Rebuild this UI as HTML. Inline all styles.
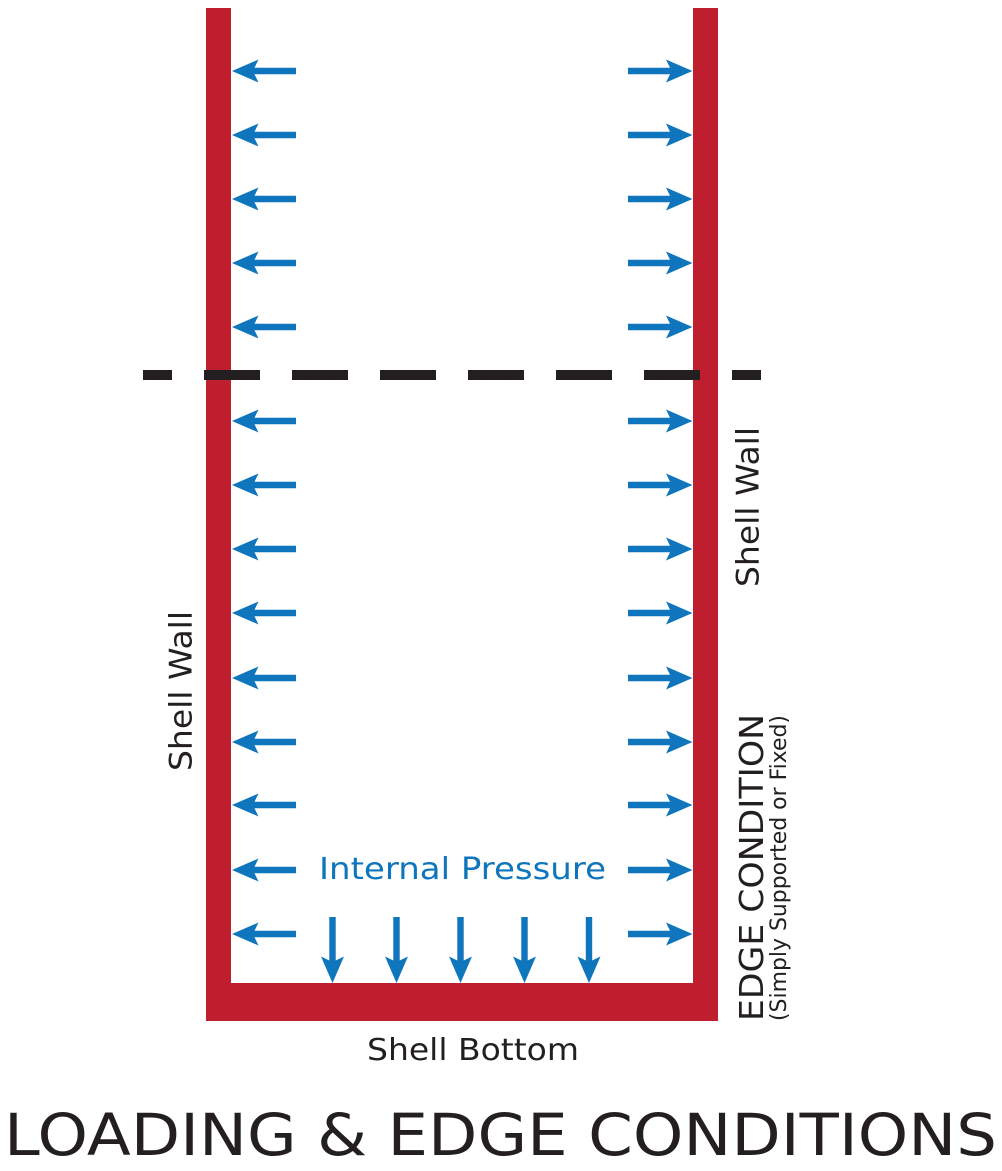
<!DOCTYPE html>
<html lang="en">
<head>
<meta charset="utf-8">
<title>Loading &amp; Edge Conditions</title>
<style>
html,body{margin:0;padding:0;background:#fff;width:1002px;height:1171px;overflow:hidden}
svg{display:block}
text{font-family:"DejaVu Sans","Liberation Sans",sans-serif;fill:#231f20}
</style>
</head>
<body>
<svg width="1002" height="1171" viewBox="0 0 1002 1171" xmlns="http://www.w3.org/2000/svg">
<defs>
<path id="l" d="M232 0L258.500-11.500L254.500-3.200H296V3.200H254.500L258.500 11.500Z" fill="#0f75bc"/>
<path id="r" d="M692.500 0L666-11.500L670-3.200H628V3.200H670L666 11.500Z" fill="#0f75bc"/>
<path id="d" d="M0 983L-11.500 956.500L-3.200 960.500V917H3.200V960.500L11.500 956.500Z" fill="#0f75bc"/>
</defs>
<path d="M206 8H231V983H693V8H718V1021H206Z" fill="#be1e2d"/>
<g>
<use href="#l" y="71"/><use href="#l" y="135"/><use href="#l" y="199"/><use href="#l" y="263"/><use href="#l" y="327"/>
<use href="#l" y="421"/><use href="#l" y="485"/><use href="#l" y="549"/><use href="#l" y="613"/><use href="#l" y="678"/>
<use href="#l" y="742"/><use href="#l" y="805"/><use href="#l" y="870"/><use href="#l" y="934"/>
<use href="#r" y="71"/><use href="#r" y="135"/><use href="#r" y="199"/><use href="#r" y="263"/><use href="#r" y="327"/>
<use href="#r" y="421"/><use href="#r" y="485"/><use href="#r" y="549"/><use href="#r" y="613"/><use href="#r" y="678"/>
<use href="#r" y="742"/><use href="#r" y="805"/><use href="#r" y="870"/><use href="#r" y="934"/>
<use href="#d" x="332.500"/><use href="#d" x="396.500"/><use href="#d" x="460.500"/><use href="#d" x="524.500"/><use href="#d" x="589"/>
</g>
<g fill="#231f20">
<rect x="143" y="370" width="29" height="10"/>
<rect x="204" y="370" width="56" height="10"/>
<rect x="292" y="370" width="56" height="10"/>
<rect x="380" y="370" width="56" height="10"/>
<rect x="468" y="370" width="56" height="10"/>
<rect x="556" y="370" width="56" height="10"/>
<rect x="644" y="370" width="56" height="10"/>
<rect x="732" y="370" width="29" height="10"/>
</g>
<text x="319" y="879" font-size="30" textLength="287" lengthAdjust="spacingAndGlyphs" style="fill:#0f75bc">Internal Pressure</text>
<text x="367" y="1060" font-size="30" textLength="212" lengthAdjust="spacingAndGlyphs">Shell Bottom</text>
<text x="4" y="1155" font-size="58" textLength="993" lengthAdjust="spacingAndGlyphs">LOADING &amp; EDGE CONDITIONS</text>
<text transform="translate(191.500 771) rotate(-90)" font-size="31" textLength="160" lengthAdjust="spacingAndGlyphs">Shell Wall</text>
<text transform="translate(758.500 587) rotate(-90)" font-size="31" textLength="160" lengthAdjust="spacingAndGlyphs">Shell Wall</text>
<text transform="translate(763 1021) rotate(-90)" font-size="33" textLength="307" lengthAdjust="spacingAndGlyphs">EDGE CONDITION</text>
<text transform="translate(786 1021) rotate(-90)" font-size="22" textLength="306" lengthAdjust="spacingAndGlyphs">(Simply Supported or Fixed)</text>
</svg>
</body>
</html>
